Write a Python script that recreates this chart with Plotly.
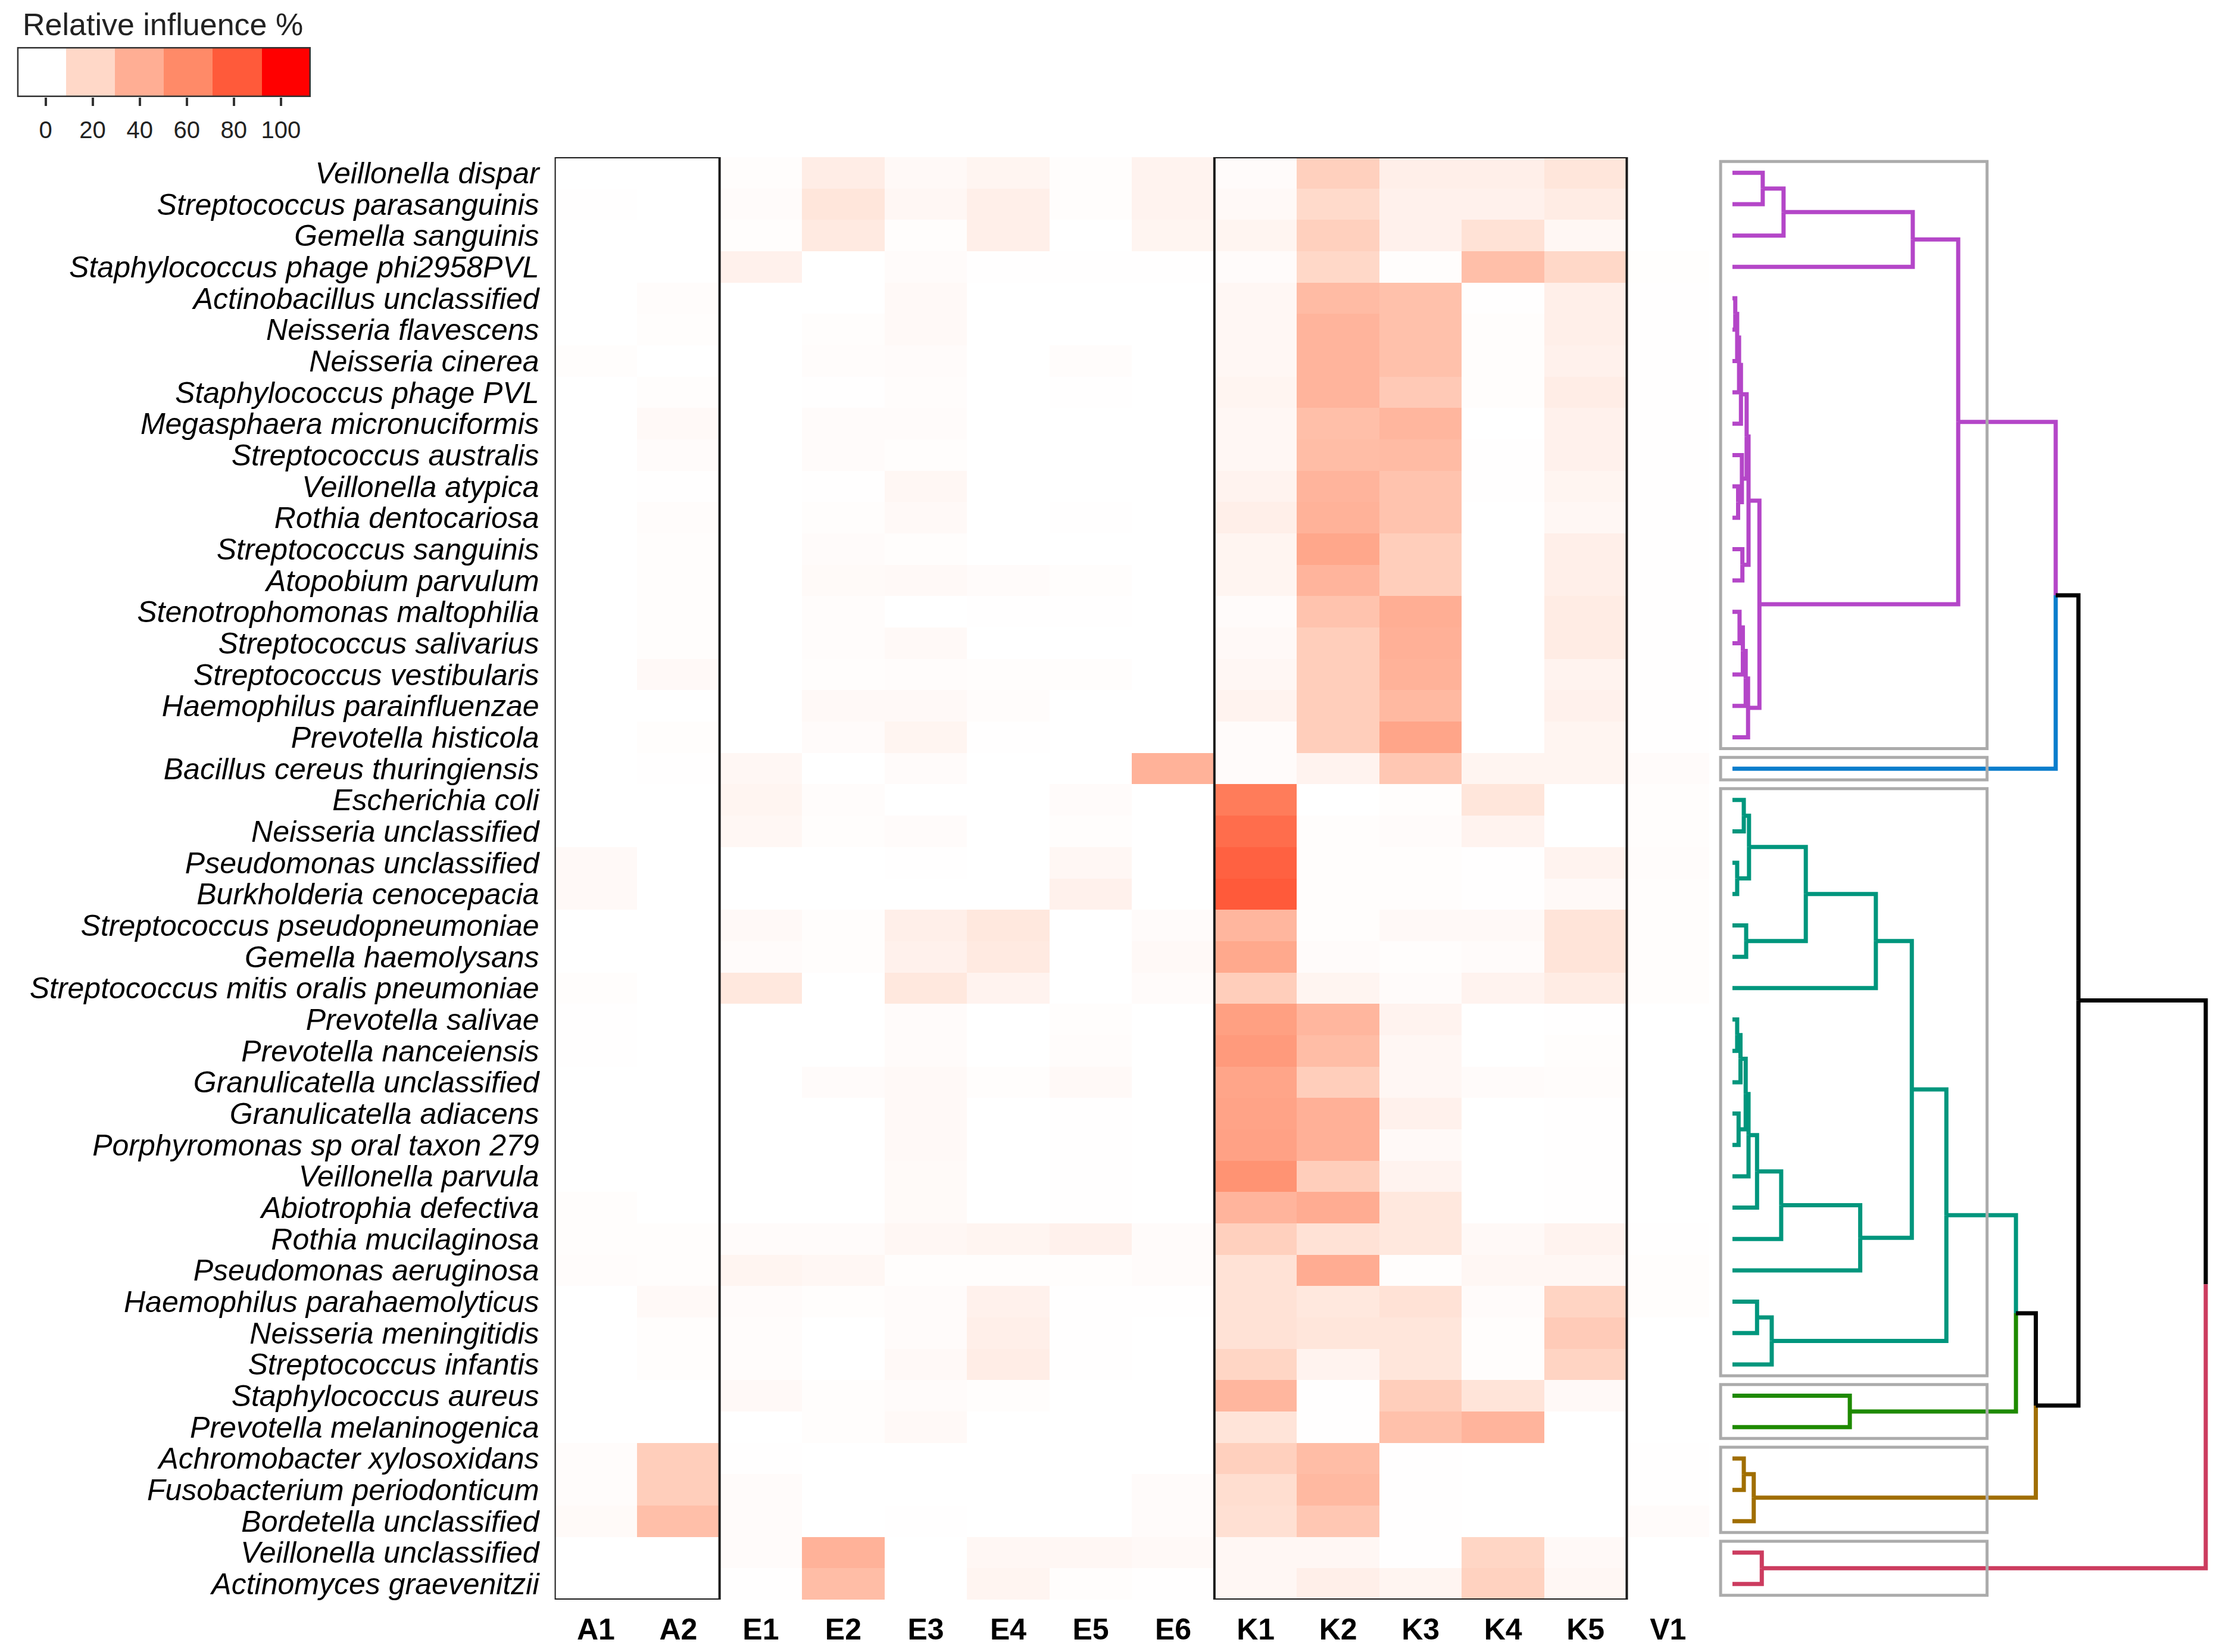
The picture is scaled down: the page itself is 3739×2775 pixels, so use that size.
import plotly.graph_objects as go

# Heatmap data ################################################################
columns = ["A1", "A2", "E1", "E2", "E3", "E4", "E5", "E6",
           "K1", "K2", "K3", "K4", "K5", "V1"]

species = [
    "Veillonella dispar", "Streptococcus parasanguinis", "Gemella sanguinis",
    "Staphylococcus phage phi2958PVL", "Actinobacillus unclassified",
    "Neisseria flavescens", "Neisseria cinerea", "Staphylococcus phage PVL",
    "Megasphaera micronuciformis", "Streptococcus australis",
    "Veillonella atypica", "Rothia dentocariosa", "Streptococcus sanguinis",
    "Atopobium parvulum", "Stenotrophomonas maltophilia",
    "Streptococcus salivarius", "Streptococcus vestibularis",
    "Haemophilus parainfluenzae", "Prevotella histicola",
    "Bacillus cereus thuringiensis", "Escherichia coli",
    "Neisseria unclassified", "Pseudomonas unclassified",
    "Burkholderia cenocepacia", "Streptococcus pseudopneumoniae",
    "Gemella haemolysans", "Streptococcus mitis oralis pneumoniae",
    "Prevotella salivae", "Prevotella nanceiensis",
    "Granulicatella unclassified", "Granulicatella adiacens",
    "Porphyromonas sp oral taxon 279", "Veillonella parvula",
    "Abiotrophia defectiva", "Rothia mucilaginosa", "Pseudomonas aeruginosa",
    "Haemophilus parahaemolyticus", "Neisseria meningitidis",
    "Streptococcus infantis", "Staphylococcus aureus",
    "Prevotella melaninogenica", "Achromobacter xylosoxidans",
    "Fusobacterium periodonticum", "Bordetella unclassified",
    "Veillonella unclassified", "Actinomyces graevenitzii",
]

# relative influence %, one row per species, columns as above
influence = [
    [0, 0, 1, 9, 3, 5, 1, 6, 2, 24, 8, 8, 13, 0],
    [0.5, 0, 2, 13, 4, 8, 1, 6, 3, 19, 7, 7, 10, 0],
    [0, 0, 1, 11, 1, 8, 0, 5, 5, 24, 7, 15, 4, 0],
    [0, 0, 7, 0, 2, 0.5, 0.5, 0.5, 2, 20, 1, 32, 20, 0.7],
    [0, 1.5, 0, 0, 3, 0, 0, 0, 4, 34, 31, 0.5, 8, 0.5],
    [0, 1, 0, 1, 3, 0, 0, 0, 4, 37, 31, 1, 8, 0.5],
    [1, 0, 0, 1.5, 2, 0, 1.5, 0, 4, 37, 31, 1, 7, 0.5],
    [0, 1, 0, 0.5, 1.5, 0, 0.5, 0, 5, 37, 27, 1, 9, 0.5],
    [0, 3, 0, 2, 2, 0, 0, 0, 4, 32, 36, 0, 7, 0.5],
    [0, 2, 0, 2, 1, 0, 0, 0, 4, 33, 34, 0.5, 7, 0.5],
    [0, 0.5, 0, 0.5, 4, 0, 0, 0, 6, 37, 30, 0.5, 5, 0.5],
    [0, 1.5, 0, 1, 3, 0, 0.5, 0, 8, 38, 30, 0, 4, 0.5],
    [0, 1, 0, 2, 1, 0, 0, 0, 5, 44, 25, 0, 8, 0.5],
    [0, 1, 0, 2.5, 3, 2, 1, 0, 5, 37, 25, 0, 8, 0.5],
    [0, 1, 0, 1.5, 0, 0.5, 0.5, 0, 2, 30, 40, 0, 10, 0.5],
    [0, 1, 0, 1.5, 3, 0, 0, 0, 3, 25, 39, 0, 10, 0.5],
    [0, 3, 0, 1, 1.5, 1, 1, 0, 4, 25, 38, 0, 6, 0.5],
    [0, 0, 0, 3, 3, 1.5, 0, 0, 6, 25, 35, 0, 7, 0.5],
    [0, 1, 0, 2, 5, 0.5, 0, 0, 2, 25, 45, 0, 5, 0.5],
    [0, 0.5, 4, 0, 2, 0, 0, 38, 2, 6, 28, 5, 5, 2],
    [0, 0, 5, 1.5, 0, 0, 2, 0, 66, 0, 1, 13, 0, 1],
    [0, 0, 4, 1, 2, 0, 1, 0, 72, 1, 2, 6, 0, 1],
    [3, 0, 0, 0, 0.5, 0, 4, 0, 77, 1, 1, 0.5, 6, 1.5],
    [3, 0, 0, 0, 0, 0, 7, 0, 80, 1, 1, 0.5, 3, 1],
    [0, 0, 3, 1, 8, 12, 0, 2, 36, 1, 3, 3, 14, 1],
    [0, 0, 2, 1, 7, 11, 0, 3, 43, 2, 1, 2, 14, 1],
    [1, 0, 12, 0, 12, 6, 0, 2, 25, 5, 2, 6, 10, 1],
    [0.5, 0, 0, 0, 2, 0, 1, 0, 48, 36, 6, 0, 0.5, 0],
    [0.5, 0, 0, 0, 2, 0, 1.5, 0, 51, 33, 4, 0, 1, 0],
    [0, 0, 0, 2, 3, 1, 3, 0, 45, 25, 4, 2, 1.5, 0],
    [0, 0, 0, 0, 3, 0, 0.5, 0, 46, 39, 7, 0, 0.5, 0],
    [0, 0, 0, 0, 3, 0, 0.5, 0, 47, 39, 3, 0, 0.5, 0],
    [0, 0, 0, 0, 2.5, 0, 0.5, 0, 55, 25, 6, 0, 0.5, 0],
    [1, 0, 0, 0, 2.5, 0, 0.5, 0, 37, 41, 12, 0, 0.5, 0],
    [1, 1, 2, 2, 4, 5, 7, 2, 24, 15, 12, 3, 6, 0.5],
    [1.5, 1, 5, 4, 1, 1, 1, 2, 15, 41, 1, 4, 4, 1],
    [0, 3, 2, 1, 2, 7, 0.5, 0.5, 15, 12, 15, 2, 22, 1],
    [0, 1, 1.5, 0, 2, 8, 0.5, 0, 15, 13, 13, 1, 26, 0],
    [0, 1, 1.5, 0, 3, 9, 0.5, 0, 21, 6, 13, 1, 22, 0],
    [0, 0, 3, 1, 2, 1, 0, 0, 36, 0.5, 25, 14, 3, 0],
    [0, 0, 0, 1, 3, 0, 0, 0, 14, 0.5, 31, 37, 0, 0],
    [1.5, 25, 0.5, 0, 0, 0, 0, 0, 24, 33, 0.5, 0, 0, 0.5],
    [1.5, 25, 2, 0, 0, 0, 0, 2, 17, 35, 0.5, 0, 0, 0.5],
    [2.5, 32, 2, 0, 0.5, 0, 0, 2, 16, 28, 0.5, 0, 0, 2],
    [0, 0, 2, 38, 0, 4, 4, 3, 4, 4, 0.5, 21, 3, 0],
    [0, 0, 0.5, 33, 0, 5, 1, 0.5, 4, 8, 5, 23, 4, 0],
]

legend_levels = [0, 20, 40, 60, 80, 100]
legend_colours = ["#FFFFFF", "#FFD8C8", "#FFAE94", "#FF8A68", "#FF5A3A", "#FF0000"]

# Dendrogram data #############################################################
cluster_names = ["purple", "blue", "teal", "green", "gold", "crimson"]
cluster_sizes = [19, 1, 19, 2, 3, 2]
cluster_colours = {"purple": "#B446C8", "blue": "#0A7DCC", "teal": "#00967D",
                   "green": "#1E8A00", "gold": "#A06E00", "crimson": "#CC3C5F"}

# (node, left, right, height) - leaves are row indices
dendro_merges = [
    ("p1", 0, 1, 6.4), ("p2", "p1", 2, 10.8), ("p3", "p2", 3, 38.1),
    ("q1", 4, 5, 0.6), ("q2", "q1", 6, 1.0), ("q3", "q2", 7, 1.4),
    ("q4", "q3", 8, 1.8), ("q5", 10, 11, 1.2), ("q6", 9, "q5", 2.0),
    ("q7", "q4", "q6", 3.0), ("q8", 12, 13, 2.1), ("q9", "q7", "q8", 3.4),
    ("r1", 14, 15, 1.5), ("r2", "r1", 16, 2.2), ("r3", "r2", 17, 2.8),
    ("r4", "r3", 18, 3.3), ("pr", "q9", "r4", 5.7), ("P", "p3", "pr", 47.7),
    ("PB", "P", 19, 68.3),
    ("t1", 20, 21, 2.4), ("t2", 22, 23, 1.0), ("t3", "t1", "t2", 3.5),
    ("t4", 24, 25, 2.9), ("t5", "t3", "t4", 15.5), ("t6", "t5", 26, 30.3),
    ("n1", 27, 28, 1.0), ("n2", "n1", 29, 1.7), ("n3", 30, 31, 1.3),
    ("n4", "n2", "n3", 2.8), ("n5", "n4", 32, 3.4), ("n6", "n5", 33, 5.2),
    ("n7", "n6", 34, 10.3), ("n8", "n7", 35, 27.0), ("t7", "t6", "n8", 37.9),
    ("s1", 36, 37, 5.2), ("s2", "s1", 38, 8.3), ("T", "t7", "s2", 45.2),
    ("G", 39, 40, 24.8), ("TG", "T", "G", 59.9),
    ("o1", 41, 42, 2.4), ("O", "o1", 43, 4.5), ("TGO", "TG", "O", 64.1),
    ("Blk", "PB", "TGO", 73.1),
    ("C", 44, 45, 6.2), ("root", "Blk", "C", 100.0),
]

W, H = 3739, 2775
OFF = 8  # page body margin
FONT = "Liberation Sans, Arial, sans-serif"


def px(x):
    return (x - OFF) / W


def py(y):
    return 1 - (y - OFF) / H


scale = [[lv / 100, c] for lv, c in zip(legend_levels, legend_colours)]

leaf_cluster = []
for name, n in zip(cluster_names, cluster_sizes):
    leaf_cluster += [name] * n

fig = go.Figure()

# main heatmap
fig.add_trace(go.Heatmap(
    z=influence, x=list(range(len(columns))), y=list(range(len(species))),
    colorscale=scale, zmin=0, zmax=100, showscale=False,
    xaxis="x", yaxis="y", hoverinfo="skip"
))

# legend key
fig.add_trace(go.Heatmap(
    z=[legend_levels], x0=-12.1 + 20.8 / 2, dx=20.8, y=[0],
    colorscale=scale, zmin=0, zmax=100, showscale=False,
    xaxis="x3", yaxis="y3", hoverinfo="skip"
))

# dendrogram
nodes = {i: (i, 0.0, {i}) for i in range(len(species))}
segs = {}


def branch_colour(leaves):
    cl = {leaf_cluster[i] for i in leaves}
    return cluster_colours[cl.pop()] if len(cl) == 1 else "#000000"


for name, a, b, h in dendro_merges:
    ya, ha, la = nodes[a]
    yb, hb, lb = nodes[b]
    ym = (ya + yb) / 2
    for yc, hc, lc in [(ya, ha, la), (yb, hb, lb)]:
        xs, ys = segs.setdefault(branch_colour(lc), ([], []))
        xs += [hc, h, h, None]
        ys += [yc, yc, ym, None]
    nodes[name] = (ym, h, la | lb)

for col, (xs, ys) in segs.items():
    fig.add_trace(go.Scatter(
        x=xs, y=ys, mode="lines", line=dict(color=col, width=7),
        xaxis="x2", yaxis="y2", hoverinfo="skip", showlegend=False
    ))

# boxes around clusters
start = 0
for n in cluster_sizes:
    fig.add_shape(type="rect", xref="x2", yref="y2", x0=-2.5, x1=53.8,
                  y0=start - 0.36, y1=start + n - 1 + 0.36,
                  line=dict(color="#ABABAB", width=5))
    start += n

# black frames round the A and K columns
for prefix in ["A", "K"]:
    idx = [i for i, c in enumerate(columns) if c.startswith(prefix)]
    fig.add_shape(type="rect", xref="x", yref="y",
                  x0=min(idx) - 0.5, x1=max(idx) + 0.5,
                  y0=-0.5, y1=len(species) - 0.5,
                  line=dict(color="#1A1A1A", width=4))

# legend frame
fig.add_shape(type="rect", xref="x3", yref="y3", x0=-12.1, x1=112.7,
              y0=-0.5, y1=0.5, line=dict(color="#333333", width=5))

fig.add_annotation(text="Relative influence %", xref="paper", yref="paper",
                   x=px(36), y=py(41), xanchor="left", yanchor="middle",
                   showarrow=False, font=dict(size=52, color="#222222", family=FONT))

hm_y = [py(2687), py(264)]

fig.update_layout(
    width=W, height=H,
    margin=dict(l=0, r=0, t=0, b=0),
    paper_bgcolor="white", plot_bgcolor="white",
    font=dict(family=FONT, color="black"),
    showlegend=False,
    xaxis=dict(
        domain=[px(931.6), px(2871)], range=[-0.5, len(columns) - 0.5],
        tickvals=list(range(len(columns))),
        ticktext=["<b>%s</b>" % c for c in columns],
        tickfont=dict(size=50), ticks="", ticklabelstandoff=16,
        showgrid=False, zeroline=False, showline=False, automargin=False
    ),
    yaxis=dict(
        domain=hm_y, range=[len(species) - 0.5, -0.5],
        tickvals=list(range(len(species))),
        ticktext=["<i>%s</i>" % s for s in species],
        tickfont=dict(size=50), ticks="", ticklabelstandoff=25,
        showgrid=False, zeroline=False, showline=False, automargin=False
    ),
    xaxis2=dict(
        domain=[px(2880), 1.0], range=[-3.77, 104.28 + OFF / 7.95], visible=False,
        showgrid=False, zeroline=False
    ),
    yaxis2=dict(
        domain=hm_y, range=[len(species) - 0.5, -0.5], visible=False,
        showgrid=False, zeroline=False
    ),
    xaxis3=dict(
        domain=[px(28.7), px(522)], range=[-12.1, 112.7], anchor="y3",
        tickvals=legend_levels, ticks="outside", ticklen=14, tickwidth=4,
        tickcolor="#333333", tickfont=dict(size=40, color="#222222"),
        ticklabelstandoff=6, showgrid=False, zeroline=False, showline=False,
        automargin=False
    ),
    yaxis3=dict(
        domain=[py(163), py(79)], range=[-0.5, 0.5], anchor="x3",
        visible=False, showgrid=False, zeroline=False
    ),
)

fig.write_html("out.html")
